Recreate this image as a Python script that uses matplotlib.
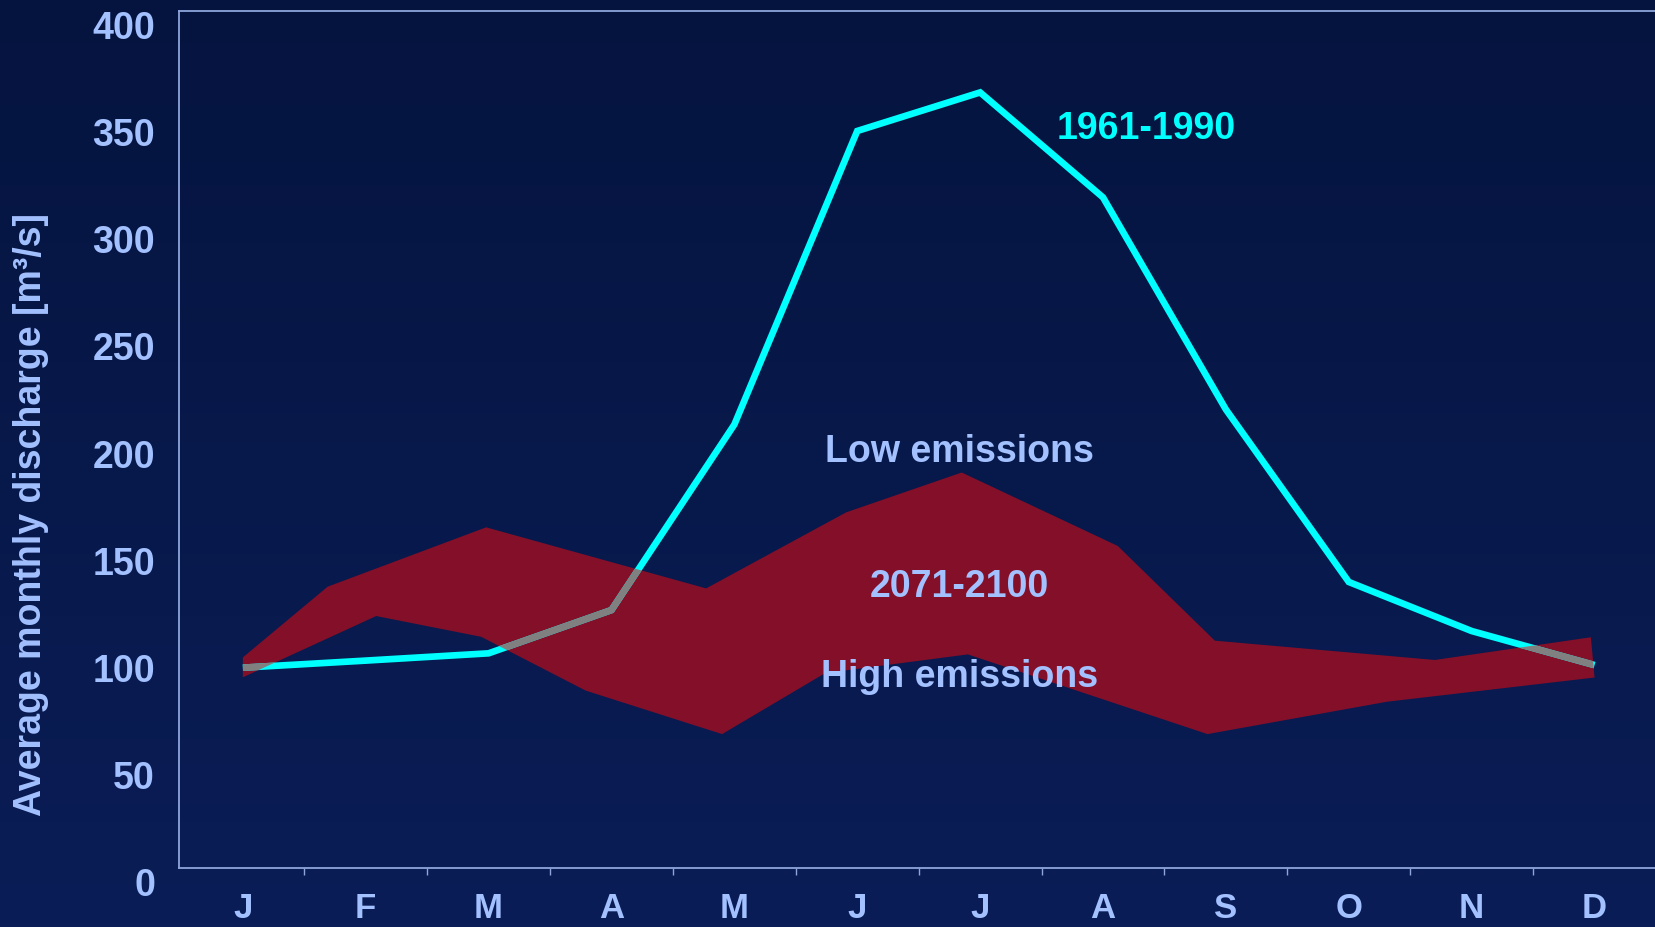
import matplotlib.pyplot as plt
import numpy as np
from matplotlib.colors import LinearSegmentedColormap

# ── data ──────────────────────────────────────────────────────────────────── #
months = ["J", "F", "M", "A", "M", "J", "J", "A", "S", "O", "N", "D"]

# 1961-1990 observed mean monthly discharge [m3/s]
q_ref = [93.5, 96.8, 100.2, 120.4, 207.0, 344.0, 362.0, 313.0, 214.0, 133.5, 110.6, 94.7]

# 2071-2100 envelope (vertices sit at fractional month positions)
low_em_x = [0.0, 0.69, 1.98, 3.77, 4.91, 5.85, 7.12, 7.91, 9.70, 10.97, 11.0]
low_em_q = [98.3, 131.3, 159.0, 130.5, 166.0, 184.6, 150.3, 106.1, 97.1, 107.7, 88.9]
high_em_x = [0.0, 1.085, 1.94, 2.79, 3.90, 4.74, 5.90, 7.85, 9.31, 11.0]
high_em_q = [89.0, 117.6, 107.9, 82.8, 62.5, 91.0, 99.7, 62.5, 77.6, 88.9]

yticks = [0, 50, 100, 150, 200, 250, 300, 350, 400]

# ── style ─────────────────────────────────────────────────────────────────── #
TXT = "#a3c0ff"
SPINE = "#8ea6dc"
CYAN = "#00ffff"
BAND = "#840f28"
GREY = "#808080"

plt.rcParams["font.family"] = ["Liberation Sans", "DejaVu Sans"]

fig = plt.figure(figsize=(16.56, 9.27), dpi=100)

# gradient background
bg = fig.add_axes([0, 0, 1, 1], zorder=-10)
cmap = LinearSegmentedColormap.from_list("bg", ["#0a1d56", "#05143f"])
bg.imshow(np.linspace(0, 1, 256).reshape(-1, 1), aspect="auto", cmap=cmap,
          origin="lower", extent=[0, 1, 0, 1])
bg.set_axis_off()

W, H = 1656, 927
x0, y_bot, y_top = 178.5, 868, 11
ax = fig.add_axes([x0 / W, (H - y_bot) / H, 1 - x0 / W, (y_bot - y_top) / H])
ax.set_facecolor("none")

step = 123.2
ax.set_xlim((x0 - 243) / step, (W - 243) / step)
ax.set_ylim(0, 400)

# band
band_x = low_em_x + high_em_x[::-1]
band_y = low_em_q + high_em_q[::-1]
band = ax.fill(band_x, band_y, color=BAND, lw=0, zorder=2)[0]

# reference line, grey where it crosses the band
xm = np.arange(len(months))
ax.plot(xm, q_ref, color=CYAN, lw=4.8, solid_capstyle="butt",
        solid_joinstyle="miter", zorder=3)
grey = ax.plot(xm, q_ref, color=GREY, lw=4.8, solid_capstyle="butt",
               solid_joinstyle="miter", zorder=4)[0]
grey.set_clip_path(band)

# annotations
lab_kw = dict(fontsize=27, fontweight="bold", ha="center", va="center", zorder=5)
ax.text(7.35, 345, "1961-1990", color=CYAN, **lab_kw)
ax.text(5.83, 194, "Low emissions", color=TXT, **lab_kw)
ax.text(5.83, 131, "2071-2100", color=TXT, **lab_kw)
ax.text(5.83, 89, "High emissions", color=TXT, **lab_kw)

# axes
for side in ["left", "bottom", "top"]:
    ax.spines[side].set_color(SPINE)
    ax.spines[side].set_linewidth(1.3)
ax.spines["right"].set_visible(False)

ax.set_yticks(yticks)
ax.set_yticklabels([str(v) for v in yticks])
ax.tick_params(axis="y", length=0, pad=17, labelsize=27, labelcolor=TXT)
for lab in ax.get_yticklabels():
    lab.set_fontweight("bold")
    lab.set_va("top")

ax.set_xticks(xm)
ax.set_xticklabels(months)
ax.set_xticks(np.arange(0.5, 11.6, 1.0), minor=True)
ax.tick_params(axis="x", which="major", length=0, pad=17, labelcolor=TXT)
ax.tick_params(axis="x", which="minor", length=5, width=1, color=SPINE)
for lab in ax.get_xticklabels():
    lab.set_fontweight("bold")
    lab.set_fontsize(25)
    lab.set_family(["Liberation Sans Narrow", "Liberation Sans"])

fig.text(31 / W, 1 - 514 / H, "Average monthly discharge [m³/s]", rotation=90,
         color=TXT, fontsize=27, fontweight="bold", ha="center", va="center")

fig.savefig("out.png", dpi=100)
